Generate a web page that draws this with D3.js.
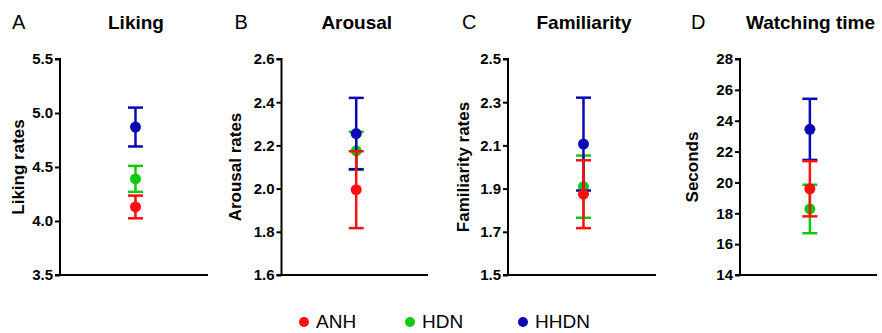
<!DOCTYPE html>
<html>
<head>
<meta charset="utf-8">
<script src="https://cdn.jsdelivr.net/npm/d3@7"></script>
<style>
  body { margin: 0; background: #fff; }
  svg { display: block; font-family: "Liberation Sans", Arial, sans-serif; }
</style>
</head>
<body>
<svg id="chart" width="882" height="333"></svg>
<script>
const titles = ['Liking', 'Arousal', 'Familiarity', 'Watching time'];
const letters = ['A', 'B', 'C', 'D'];
const yTitles = ['Liking rates', 'Arousal rates', 'Familiarity rates', 'Seconds'];
const groups = ['ANH', 'HDN', 'HHDN'];

const domains = [[3.5, 5.5], [1.6, 2.6], [1.5, 2.5], [14, 28]];
const tickValues = [
  [3.5, 4.0, 4.5, 5.0, 5.5],
  [1.6, 1.8, 2.0, 2.2, 2.4, 2.6],
  [1.5, 1.7, 1.9, 2.1, 2.3, 2.5],
  [14, 16, 18, 20, 22, 24, 26, 28]
];
const tickFormats = ['.1f', '.1f', '.1f', 'd'];

// mean and error (one value per panel)
const anhMean = [4.13, 1.995, 1.874, 19.59];
const anhErr = [0.105, 0.178, 0.157, 1.79];
const hdnMean = [4.39, 2.175, 1.909, 18.28];
const hdnErr = [0.12, 0.088, 0.144, 1.57];
const hhdnMean = [4.87, 2.255, 2.106, 23.44];
const hhdnErr = [0.18, 0.165, 0.215, 1.98];

const colors = {ANH: '#ff0f0f', HDN: '#12c812', HHDN: '#0a0ab4'};

const svg = d3.select('#chart');

// panel frames: y-axis position and x-axis end
const axisX = [60, 281.5, 508, 740];
const axisEnd = [208, 428, 656, 877];
const plotTop = 59, plotBottom = 275;

const series = [
  {name: 'HDN', mean: hdnMean, err: hdnErr},
  {name: 'HHDN', mean: hhdnMean, err: hhdnErr},
  {name: 'ANH', mean: anhMean, err: anhErr}
];

titles.forEach((t, i) => {
  const g = svg.append('g');
  const y = d3.scaleLinear().domain(domains[i]).range([plotBottom, plotTop]);
  const x = d3.scaleLinear().domain([0, 1]).range([axisX[i], axisEnd[i]]);

  const yAxis = d3.axisLeft(y)
    .tickValues(tickValues[i])
    .tickFormat(d3.format(tickFormats[i]))
    .tickSize(5)
    .tickPadding(2);

  const ag = g.append('g')
    .attr('transform', 'translate(' + axisX[i] + ',0)')
    .call(yAxis);
  ag.select('.domain').attr('stroke', '#000').attr('stroke-width', 2).attr('d', 'M-5,' + plotTop + 'H0V' + plotBottom + 'H-5');
  ag.selectAll('.tick line').attr('stroke', '#000').attr('stroke-width', 2);
  ag.selectAll('.tick text')
    .attr('fill', '#000')
    .style('font-size', '15px')
    .style('font-weight', 'bold')
    .style('font-family', '"Liberation Sans", Arial, sans-serif');

  g.append('line')
    .attr('x1', axisX[i] - 1).attr('x2', axisEnd[i])
    .attr('y1', plotBottom).attr('y2', plotBottom)
    .attr('stroke', '#000').attr('stroke-width', 2);

  // titles
  g.append('text')
    .attr('x', (axisX[i] + axisEnd[i]) / 2 + 2)
    .attr('y', 29)
    .attr('text-anchor', 'middle')
    .style('font-size', '19px')
    .style('font-weight', 'bold')
    .text(t);

  g.append('text')
    .attr('x', axisX[i] - 48 + [0, 1, 2, -1][i])
    .attr('y', 29)
    .style('font-size', '20px')
    .text(letters[i]);

  g.append('text')
    .attr('transform', 'translate(' + (axisX[i] - [41.5, 46, 45, 48][i]) + ',' + ((plotTop + plotBottom) / 2) + ') rotate(-90)')
    .attr('text-anchor', 'middle')
    .attr('dy', '0.35em')
    .style('font-size', '17px')
    .style('font-weight', 'bold')
    .text(yTitles[i]);

  const cx = x(0.51);
  series.forEach(s => {
    const m = s.mean[i], e = s.err[i];
    const c = colors[s.name];
    g.append('line')
      .attr('x1', cx).attr('x2', cx)
      .attr('y1', y(m - e)).attr('y2', y(m + e))
      .attr('stroke', c).attr('stroke-width', 2.5);
    [m - e, m + e].forEach(v => {
      g.append('line')
        .attr('x1', cx - 7.5).attr('x2', cx + 7.5)
        .attr('y1', y(v)).attr('y2', y(v))
        .attr('stroke', c).attr('stroke-width', 2.5);
    });
    g.append('circle')
      .attr('cx', cx).attr('cy', y(m))
      .attr('r', 5.5)
      .attr('fill', c);
  });
});

// legend
const legendX = [304, 410, 523];
const leg = svg.append('g');
groups.forEach((name, i) => {
  leg.append('circle')
    .attr('cx', legendX[i]).attr('cy', 322)
    .attr('r', 5)
    .attr('fill', colors[name]);
  leg.append('text')
    .attr('x', legendX[i] + 12)
    .attr('y', 328)
    .style('font-size', '19px')
    .text(name);
});
</script>
</body>
</html>
